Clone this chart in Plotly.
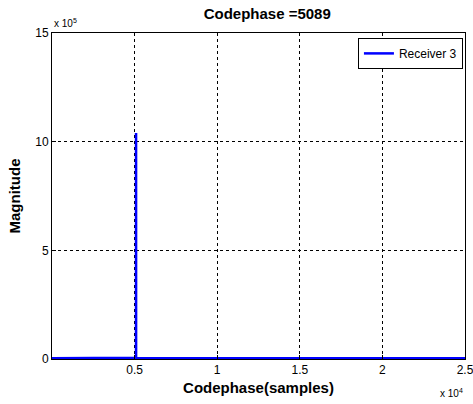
import plotly.graph_objects as go

# Data
codephase = [1, 2000, 4000, 5000, 5087, 5088, 5089, 5090, 5091, 6000, 10000, 15000, 20000, 25000]
magnitude = [3000, 3500, 3000, 4000, 4000, 6000, 1040000, 6000, 4000, 3500, 3000, 3500, 3000, 3000]

x_tickvals = [5000, 10000, 15000, 20000, 25000]
x_ticktext = ["0.5", "1", "1.5", "2", "2.5"]
y_tickvals = [0, 500000, 1000000, 1500000]
y_ticktext = ["0", "5", "10", "15"]

fig = go.Figure()
fig.add_trace(go.Scatter(x=codephase, y=magnitude, mode="lines",
                         line=dict(color="#0000ff", width=2.5), name="Receiver 3"))

fig.update_layout(
    width=473, height=404,
    margin=dict(l=52, r=8, t=33, b=45, autoexpand=False),
    paper_bgcolor="white", plot_bgcolor="white",
    font=dict(family="Arial, Liberation Sans, sans-serif", size=12, color="black"),
    title=dict(text="<b>Codephase =5089</b>", x=0.565, xanchor="center", y=0.98, yanchor="top",
               font=dict(size=15)),
    showlegend=True,
    legend=dict(x=0.995, y=0.985, xanchor="right", yanchor="top",
                bordercolor="black", borderwidth=1, bgcolor="white",
                font=dict(size=12)),
    xaxis=dict(range=[0, 25000], tickvals=x_tickvals, ticktext=x_ticktext,
               showgrid=True, gridcolor="black", griddash="3px,3px", gridwidth=1,
               showline=True, linecolor="black", linewidth=1, mirror=True,
               ticks="inside", ticklen=4, tickcolor="black", zeroline=False,
               ticklabeloverflow="allow", automargin=False,
               title=dict(text="<b>Codephase(samples)</b>", font=dict(size=15), standoff=6)),
    yaxis=dict(range=[0, 1500000], tickvals=y_tickvals, ticktext=y_ticktext,
               showgrid=True, gridcolor="black", griddash="3px,3px", gridwidth=1,
               showline=True, linecolor="black", linewidth=1, mirror=True,
               ticks="inside", ticklen=4, tickcolor="black", zeroline=False,
               automargin=False,
               title=dict(text="<b>Magnitude</b>", font=dict(size=15), standoff=10)),
)

fig.add_annotation(text="x 10<sup>5</sup>", xref="paper", yref="paper", x=0.0, y=1.0,
                   xanchor="left", yanchor="bottom", showarrow=False, font=dict(size=10), yshift=2)
fig.add_annotation(text="x 10<sup>4</sup>", xref="paper", yref="paper", x=1.0, y=0.0,
                   xanchor="right", yanchor="top", showarrow=False, font=dict(size=10), yshift=-26)

fig.write_html("out.html")
